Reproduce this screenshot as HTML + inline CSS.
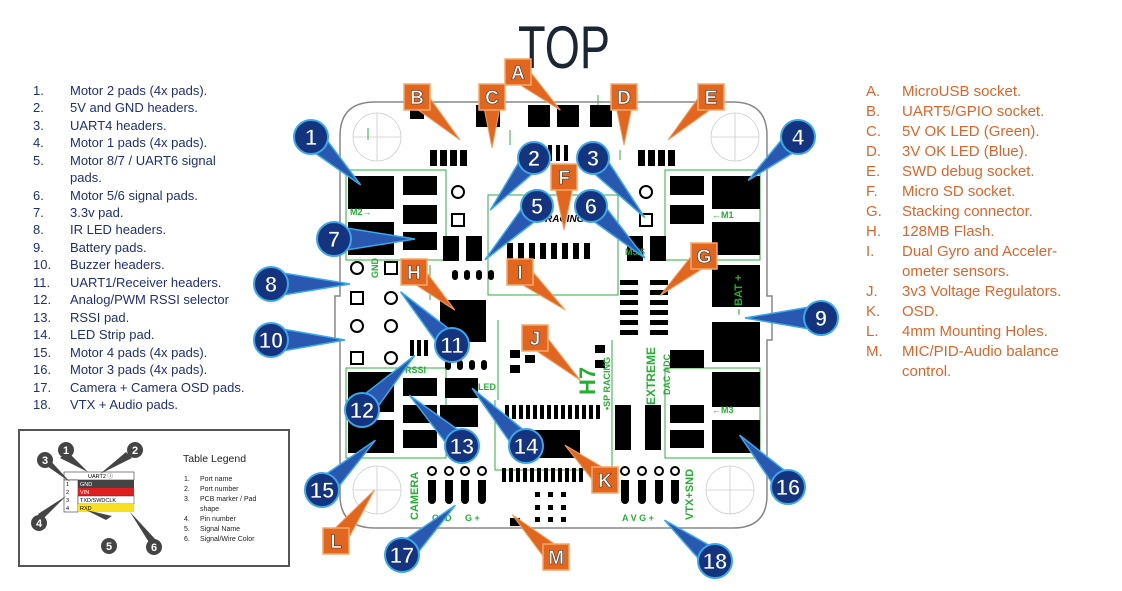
<!DOCTYPE html>
<html><head><meta charset="utf-8"><style>
html,body{margin:0;padding:0;background:#fff;}
svg{display:block;font-family:"Liberation Sans",sans-serif;}
.l{fill:#1f2f7a;font-size:13px;}
.r{fill:#e0642a;font-size:15px;}
.g{fill:#22b030;font-size:9px;font-weight:bold;}
.bt polygon{fill:#2858b0;stroke:#3aa8e8;stroke-width:1.5;}
.bc{fill:#15347f;stroke:#3aa8e8;stroke-width:2;}
.bn{fill:#fff;stroke:#15347f;stroke-width:0.8;font-size:22px;font-weight:bold;text-anchor:middle;}
.ot polygon{fill:#e2661e;stroke:#f2a060;stroke-width:1;}
.os{fill:#e2661e;stroke:#f4a868;stroke-width:1.5;}
.on{fill:#fff;stroke:#333;stroke-width:0.6;font-size:19px;font-weight:bold;text-anchor:middle;}
</style></head><body>
<svg width="1122" height="591" viewBox="0 0 1122 591" xmlns="http://www.w3.org/2000/svg">
<text x="518" y="68" font-size="60" fill="#1c2633" textLength="92" lengthAdjust="spacingAndGlyphs">TOP</text>

<!-- left list -->
<g class="l">
<text x="33" y="95">1.</text><text x="70" y="95">Motor 2 pads (4x pads).</text>
<text x="33" y="112">2.</text><text x="70" y="112">5V and GND headers.</text>
<text x="33" y="130">3.</text><text x="70" y="130">UART4 headers.</text>
<text x="33" y="147">4.</text><text x="70" y="147">Motor 1 pads (4x pads).</text>
<text x="33" y="165">5.</text><text x="70" y="165">Motor 8/7 / UART6 signal</text>
<text x="70" y="182">pads.</text>
<text x="33" y="200">6.</text><text x="70" y="200">Motor 5/6 signal pads.</text>
<text x="33" y="217">7.</text><text x="70" y="217">3.3v pad.</text>
<text x="33" y="234">8.</text><text x="70" y="234">IR LED headers.</text>
<text x="33" y="252">9.</text><text x="70" y="252">Battery pads.</text>
<text x="33" y="269">10.</text><text x="70" y="269">Buzzer headers.</text>
<text x="33" y="287">11.</text><text x="70" y="287">UART1/Receiver headers.</text>
<text x="33" y="304">12.</text><text x="70" y="304">Analog/PWM RSSI selector</text>
<text x="33" y="322">13.</text><text x="70" y="322">RSSI pad.</text>
<text x="33" y="339">14.</text><text x="70" y="339">LED Strip pad.</text>
<text x="33" y="357">15.</text><text x="70" y="357">Motor 4 pads (4x pads).</text>
<text x="33" y="374">16.</text><text x="70" y="374">Motor 3 pads (4x pads).</text>
<text x="33" y="392">17.</text><text x="70" y="392">Camera + Camera OSD pads.</text>
<text x="33" y="409">18.</text><text x="70" y="409">VTX + Audio pads.</text>
</g>

<!-- right list -->
<g class="r">
<text x="866" y="96">A.</text><text x="902" y="96">MicroUSB socket.</text>
<text x="866" y="116">B.</text><text x="902" y="116">UART5/GPIO socket.</text>
<text x="866" y="136">C.</text><text x="902" y="136">5V OK LED (Green).</text>
<text x="866" y="156">D.</text><text x="902" y="156">3V OK LED (Blue).</text>
<text x="866" y="176">E.</text><text x="902" y="176">SWD debug socket.</text>
<text x="866" y="196">F.</text><text x="902" y="196">Micro SD socket.</text>
<text x="866" y="216">G.</text><text x="902" y="216">Stacking connector.</text>
<text x="866" y="236">H.</text><text x="902" y="236">128MB Flash.</text>
<text x="866" y="256">I.</text><text x="902" y="256">Dual Gyro and Acceler-</text>
<text x="902" y="276">ometer sensors.</text>
<text x="866" y="296">J.</text><text x="902" y="296">3v3 Voltage Regulators.</text>
<text x="866" y="316">K.</text><text x="902" y="316">OSD.</text>
<text x="866" y="336">L.</text><text x="902" y="336">4mm Mounting Holes.</text>
<text x="866" y="356">M.</text><text x="902" y="356">MIC/PID-Audio balance</text>
<text x="902" y="376">control.</text>
</g>

<!-- legend box -->
<rect x="19" y="430" width="270" height="136" fill="#fff" stroke="#555" stroke-width="2"/>
<g font-size="5.5">
<rect x="64" y="472" width="70" height="8" fill="#fff" stroke="#333" stroke-width="0.6"/>
<text x="88" y="478">UART2 ⓘ</text>
<rect x="64" y="480" width="14" height="32" fill="#fff" stroke="#333" stroke-width="0.6"/>
<rect x="78" y="480" width="56" height="8" fill="#444"/><text x="80" y="486" fill="#fff">GND</text>
<rect x="78" y="488" width="56" height="8" fill="#e02020"/><text x="80" y="494" fill="#fff">VIN</text>
<rect x="78" y="496" width="56" height="8" fill="#fff" stroke="#333" stroke-width="0.5"/><text x="80" y="502">TXD/SWDCLK</text>
<rect x="78" y="504" width="56" height="8" fill="#f8e020"/><text x="80" y="510">RXD</text>
<text x="66" y="486">1</text><text x="66" y="494">2</text><text x="66" y="502">3</text><text x="66" y="510">4</text>
</g>
<g fill="#444">
<polygon points="68,452 60,458 88,472"/><polygon points="132,458 126,452 100,474"/>
<polygon points="48,458 44,464 70,482"/><polygon points="42,520 38,514 66,496"/>
<polygon points="106,520 112,516 86,510"/><polygon points="150,544 156,540 130,512"/>
<circle cx="66" cy="450" r="8"/><circle cx="135" cy="450" r="8"/><circle cx="45" cy="460" r="8"/>
<circle cx="39" cy="523" r="8"/><circle cx="109" cy="546" r="8"/><circle cx="154" cy="547" r="8"/>
</g>
<g fill="#fff" font-size="11" font-weight="bold" text-anchor="middle">
<text x="66" y="454">1</text><text x="135" y="454">2</text><text x="45" y="464">3</text>
<text x="39" y="527">4</text><text x="109" y="550">5</text><text x="154" y="551">6</text>
</g>
<g font-size="10" fill="#222">
<text x="183" y="462" font-size="10.5">Table Legend</text>
<text x="184" y="481" font-size="7">1.</text><text x="200" y="481" font-size="7">Port name</text>
<text x="184" y="491" font-size="7">2.</text><text x="200" y="491" font-size="7">Port number</text>
<text x="184" y="501" font-size="7">3.</text><text x="200" y="501" font-size="7">PCB marker / Pad</text>
<text x="200" y="511" font-size="7">shape</text>
<text x="184" y="521" font-size="7">4.</text><text x="200" y="521" font-size="7">Pin number</text>
<text x="184" y="531" font-size="7">5.</text><text x="200" y="531" font-size="7">Signal Name</text>
<text x="184" y="541" font-size="7">6.</text><text x="200" y="541" font-size="7">Signal/Wire Color</text>
</g>

<!-- board -->
<path d="M375,102 H733 Q767,102 767,136 V296 H772 V340 H767 V495 Q767,528 733,528 H375 Q340,528 340,495 V340 H335 V296 H340 V136 Q340,102 375,102 Z" fill="#fff" stroke="#888" stroke-width="1.5"/>
<g fill="none" stroke="#ccc" stroke-width="0.8">
<circle cx="377" cy="137" r="24"/><path d="M353,137H401M377,113V161"/>
<circle cx="735" cy="137" r="24"/><path d="M711,137H759M735,113V161"/>
<circle cx="377" cy="490" r="24"/><path d="M353,490H401M377,466V514"/>
<circle cx="730" cy="490" r="24"/><path d="M706,490H754M730,466V514"/>
</g>
<g fill="none" stroke="#2ab040" stroke-width="1">
<rect x="346" y="170" width="100" height="90"/><rect x="665" y="170" width="95" height="90"/>
<rect x="346" y="368" width="100" height="90"/><rect x="665" y="368" width="95" height="90"/>
<rect x="488" y="195" width="130" height="100"/>
<path d="M430,265 V300 M498,320 V400 M495,400 V470 H612 V400 M612,340 V400"/>
<path d="M368,128V140 M598,95V110 M510,130V145 M620,150V160"/>
</g>
<g fill="#000">
<!-- top row -->
<rect x="410" y="105" width="14" height="14"/><rect x="476" y="105" width="24" height="22"/>
<rect x="528" y="105" width="22" height="22"/><rect x="557" y="105" width="22" height="22"/>
<rect x="590" y="105" width="22" height="22"/>
<rect x="430" y="150" width="7" height="16"/><rect x="440" y="150" width="7" height="16"/><rect x="450" y="150" width="7" height="16"/><rect x="460" y="150" width="7" height="16"/>
<rect x="638" y="150" width="7" height="16"/><rect x="648" y="150" width="7" height="16"/><rect x="658" y="150" width="7" height="16"/><rect x="668" y="150" width="7" height="16"/>
<rect x="548" y="145" width="4" height="16"/><rect x="556" y="145" width="4" height="16"/><rect x="564" y="145" width="4" height="16"/>
<!-- motor pads -->
<rect x="348" y="176" width="46" height="33"/><rect x="348" y="222" width="46" height="33"/>
<rect x="403" y="176" width="34" height="19"/><rect x="403" y="205" width="34" height="19"/><rect x="403" y="232" width="34" height="18"/>
<rect x="712" y="176" width="48" height="33"/><rect x="712" y="222" width="48" height="33"/>
<rect x="670" y="176" width="34" height="19"/><rect x="670" y="205" width="34" height="19"/>
<rect x="712" y="265" width="48" height="42"/><rect x="712" y="322" width="48" height="40"/>
<rect x="348" y="372" width="46" height="40"/><rect x="348" y="420" width="46" height="33"/>
<rect x="403" y="378" width="34" height="18"/><rect x="403" y="405" width="34" height="18"/><rect x="403" y="430" width="34" height="18"/>
<rect x="712" y="372" width="48" height="35"/><rect x="712" y="420" width="48" height="33"/>
<rect x="670" y="405" width="34" height="18"/><rect x="670" y="430" width="34" height="18"/>
<rect x="670" y="350" width="34" height="18"/>
<!-- center -->
<rect x="443" y="236" width="16" height="25"/><rect x="466" y="236" width="16" height="25"/>
<rect x="627" y="236" width="16" height="25"/><rect x="650" y="236" width="16" height="25"/>
<rect x="507" y="243" width="6" height="16"/><rect x="518" y="243" width="6" height="16"/><rect x="529" y="243" width="6" height="16"/><rect x="540" y="243" width="6" height="16"/><rect x="551" y="243" width="6" height="16"/><rect x="562" y="243" width="6" height="16"/><rect x="573" y="243" width="6" height="16"/><rect x="584" y="243" width="6" height="16"/>
<rect x="440" y="300" width="46" height="42"/>
<rect x="445" y="378" width="33" height="20"/><rect x="440" y="405" width="38" height="22"/>
<rect x="530" y="430" width="50" height="28"/>
<g><rect x="505" y="405" width="4" height="14"/><rect x="512" y="405" width="4" height="14"/><rect x="519" y="405" width="4" height="14"/><rect x="526" y="405" width="4" height="14"/><rect x="533" y="405" width="4" height="14"/><rect x="540" y="405" width="4" height="14"/><rect x="547" y="405" width="4" height="14"/><rect x="554" y="405" width="4" height="14"/><rect x="561" y="405" width="4" height="14"/><rect x="568" y="405" width="4" height="14"/><rect x="575" y="405" width="4" height="14"/><rect x="582" y="405" width="4" height="14"/><rect x="589" y="405" width="4" height="14"/><rect x="596" y="405" width="4" height="14"/></g>
<g><rect x="502" y="468" width="4" height="14"/><rect x="509" y="468" width="4" height="14"/><rect x="516" y="468" width="4" height="14"/><rect x="523" y="468" width="4" height="14"/><rect x="530" y="468" width="4" height="14"/><rect x="537" y="468" width="4" height="14"/><rect x="544" y="468" width="4" height="14"/><rect x="551" y="468" width="4" height="14"/><rect x="558" y="468" width="4" height="14"/><rect x="565" y="468" width="4" height="14"/><rect x="572" y="468" width="4" height="14"/><rect x="579" y="468" width="4" height="14"/></g>
<rect x="620" y="280" width="18" height="5"/><rect x="620" y="290" width="18" height="5"/><rect x="620" y="300" width="18" height="5"/><rect x="620" y="310" width="18" height="5"/><rect x="620" y="320" width="18" height="5"/><rect x="620" y="330" width="18" height="5"/>
<rect x="650" y="280" width="18" height="5"/><rect x="650" y="290" width="18" height="5"/><rect x="650" y="300" width="18" height="5"/><rect x="650" y="310" width="18" height="5"/><rect x="650" y="320" width="18" height="5"/><rect x="650" y="330" width="18" height="5"/>
<rect x="615" y="405" width="16" height="45"/><rect x="645" y="405" width="16" height="45"/>
<rect x="510" y="350" width="10" height="8"/><rect x="510" y="365" width="10" height="8"/><rect x="525" y="355" width="10" height="8"/><rect x="595" y="345" width="10" height="8"/><rect x="595" y="360" width="10" height="8"/>
<rect x="452" y="270" width="6" height="10" rx="3"/><rect x="464" y="270" width="6" height="10" rx="3"/><rect x="476" y="270" width="6" height="10" rx="3"/><rect x="488" y="270" width="6" height="10" rx="3"/>
<rect x="445" y="360" width="6" height="10" rx="3"/><rect x="457" y="360" width="6" height="10" rx="3"/><rect x="469" y="360" width="6" height="10" rx="3"/><rect x="481" y="360" width="6" height="10" rx="3"/>
<rect x="410" y="340" width="4" height="16"/><rect x="417" y="340" width="4" height="16"/><rect x="424" y="340" width="4" height="16"/>
<rect x="510" y="518" width="10" height="8"/>
<!-- camera/vtx pads -->
<path d="M428,480 h8 v20 a4,4 0 0 1 -8,0 z M445,480 h8 v20 a4,4 0 0 1 -8,0 z M461,480 h8 v20 a4,4 0 0 1 -8,0 z M478,480 h8 v20 a4,4 0 0 1 -8,0 z"/>
<path d="M621,480 h8 v20 a4,4 0 0 1 -8,0 z M638,480 h8 v20 a4,4 0 0 1 -8,0 z M655,480 h8 v20 a4,4 0 0 1 -8,0 z M671,480 h8 v20 a4,4 0 0 1 -8,0 z"/>
<rect x="535" y="492" width="5" height="5"/><rect x="548" y="492" width="5" height="5"/><rect x="561" y="492" width="5" height="5"/><rect x="535" y="505" width="5" height="5"/><rect x="548" y="505" width="5" height="5"/><rect x="561" y="505" width="5" height="5"/><rect x="535" y="517" width="5" height="5"/><rect x="548" y="517" width="5" height="5"/><rect x="561" y="517" width="5" height="5"/>
</g>
<g fill="#fff" stroke="#000" stroke-width="2">
<circle cx="432" cy="471" r="4"/><circle cx="449" cy="471" r="4"/><circle cx="465" cy="471" r="4"/><circle cx="482" cy="471" r="4"/>
<circle cx="625" cy="471" r="4"/><circle cx="642" cy="471" r="4"/><circle cx="659" cy="471" r="4"/><circle cx="675" cy="471" r="4"/>
<circle cx="458" cy="192" r="6"/><rect x="452" y="214" width="12" height="12"/>
<circle cx="646" cy="192" r="6"/><rect x="640" y="214" width="12" height="12"/>
<circle cx="357" cy="268" r="6"/><rect x="385" y="262" width="12" height="12"/>
<rect x="351" y="292" width="12" height="12"/><circle cx="391" cy="298" r="6"/>
<circle cx="357" cy="326" r="6"/><circle cx="391" cy="326" r="6"/>
<rect x="351" y="352" width="12" height="12"/><circle cx="391" cy="358" r="6"/>
</g>
<g class="g">
<text x="545" y="222" font-size="10" fill="#000" font-style="italic">RACING</text>
<text x="625" y="255">M5/6</text><text x="478" y="390">LED</text><text x="405" y="373">RSSI</text>
<text x="350" y="215">M2→</text><text x="712" y="218">←M1</text><text x="350" y="413">M4→</text><text x="712" y="413">←M3</text>
<text transform="translate(595,395) rotate(-90)" font-size="22" font-weight="bold">H7</text>
<text transform="translate(655,405) rotate(-90)" font-size="12">EXTREME</text>
<text transform="translate(670,395) rotate(-90)">DAC ADC</text>
<text transform="translate(610,410) rotate(-90)">•SP RACING</text>
<text transform="translate(742,315) rotate(-90)" font-size="11">– BAT +</text>
<text transform="translate(418,520) rotate(-90)" font-size="11">CAMERA</text>
<text transform="translate(693,520) rotate(-90)" font-size="11">VTX+SND</text>
<text x="432" y="521">OSD</text><text x="465" y="521">G +</text><text x="622" y="521">A  V  G  +</text>
<text transform="translate(378,278) rotate(-90)">GND</text>
</g>

<!-- blue pointers -->
<g class="bt">
<g transform="translate(311,137) rotate(44)"><polygon points="0,-11 69,0 0,11"/></g>
<g transform="translate(534,158) rotate(130)"><polygon points="0,-11 68,0 0,11"/></g>
<g transform="translate(593,158) rotate(49)"><polygon points="0,-11 79,0 0,11"/></g>
<g transform="translate(798,137) rotate(139)"><polygon points="0,-11 66,0 0,11"/></g>
<g transform="translate(537,206) rotate(134)"><polygon points="0,-11 75,0 0,11"/></g>
<g transform="translate(591,206) rotate(44)"><polygon points="0,-11 75,0 0,11"/></g>
<g transform="translate(334,239) rotate(0)"><polygon points="0,-13 81,0 0,13"/></g>
<g transform="translate(271,284) rotate(0)"><polygon points="0,-13 79,0 0,13"/></g>
<g transform="translate(821,318) rotate(180)"><polygon points="0,-13 76,0 0,13"/></g>
<g transform="translate(271,340) rotate(0)"><polygon points="0,-13 74,0 0,13"/></g>
<g transform="translate(452,345) rotate(226)"><polygon points="0,-11 74,0 0,11"/></g>
<g transform="translate(362,410) rotate(-46)"><polygon points="0,-11 76,0 0,11"/></g>
<g transform="translate(462,446) rotate(-136)"><polygon points="0,-11 73,0 0,11"/></g>
<g transform="translate(526,446) rotate(-133)"><polygon points="0,-11 79,0 0,11"/></g>
<g transform="translate(322,490) rotate(-43)"><polygon points="0,-11 73,0 0,11"/></g>
<g transform="translate(788,487) rotate(-133)"><polygon points="0,-11 71,0 0,11"/></g>
<g transform="translate(402,555) rotate(-43)"><polygon points="0,-11 73,0 0,11"/></g>
<g transform="translate(715,561) rotate(-141)"><polygon points="0,-11 65,0 0,11"/></g>
</g>
<g class="ot">
<g transform="translate(518,72) rotate(42)"><polygon points="0,-10 57,0 0,10"/></g>
<g transform="translate(417,97) rotate(45)"><polygon points="0,-10 61,0 0,10"/></g>
<g transform="translate(492,97) rotate(90)"><polygon points="0,-10 51,0 0,10"/></g>
<g transform="translate(624,97) rotate(90)"><polygon points="0,-10 48,0 0,10"/></g>
<g transform="translate(711,97) rotate(135)"><polygon points="0,-10 61,0 0,10"/></g>
<g transform="translate(564,177) rotate(90)"><polygon points="0,-11 53,0 0,11"/></g>
<g transform="translate(704,256) rotate(138)"><polygon points="0,-10 59,0 0,10"/></g>
<g transform="translate(414,272) rotate(43)"><polygon points="0,-10 56,0 0,10"/></g>
<g transform="translate(520,272) rotate(40)"><polygon points="0,-10 59,0 0,10"/></g>
<g transform="translate(535,338) rotate(43)"><polygon points="0,-10 62,0 0,10"/></g>
<g transform="translate(605,480) rotate(-139)"><polygon points="0,-10 53,0 0,10"/></g>
<g transform="translate(336,541) rotate(-53)"><polygon points="0,-10 64,0 0,10"/></g>
<g transform="translate(556,557) rotate(-136)"><polygon points="0,-10 61,0 0,10"/></g>
</g>

<!-- blue circles -->
<g>
<circle class="bc" cx="311" cy="137" r="17"/><text class="bn" x="311" y="145">1</text>
<circle class="bc" cx="534" cy="158" r="16"/><text class="bn" x="534" y="166">2</text>
<circle class="bc" cx="593" cy="158" r="16"/><text class="bn" x="593" y="166">3</text>
<circle class="bc" cx="798" cy="137" r="17"/><text class="bn" x="798" y="145">4</text>
<circle class="bc" cx="537" cy="206" r="16"/><text class="bn" x="537" y="214">5</text>
<circle class="bc" cx="591" cy="206" r="16"/><text class="bn" x="591" y="214">6</text>
<circle class="bc" cx="334" cy="239" r="17"/><text class="bn" x="334" y="247">7</text>
<circle class="bc" cx="271" cy="284" r="17"/><text class="bn" x="271" y="292">8</text>
<circle class="bc" cx="821" cy="318" r="17"/><text class="bn" x="821" y="326">9</text>
<circle class="bc" cx="271" cy="340" r="17"/><text class="bn" x="271" y="348" font-size="20">10</text>
<circle class="bc" cx="452" cy="345" r="17"/><text class="bn" x="452" y="353" font-size="20">11</text>
<circle class="bc" cx="362" cy="410" r="17"/><text class="bn" x="362" y="418" font-size="20">12</text>
<circle class="bc" cx="462" cy="446" r="17"/><text class="bn" x="462" y="454" font-size="20">13</text>
<circle class="bc" cx="526" cy="446" r="17"/><text class="bn" x="526" y="454" font-size="20">14</text>
<circle class="bc" cx="322" cy="490" r="17"/><text class="bn" x="322" y="498" font-size="20">15</text>
<circle class="bc" cx="788" cy="487" r="17"/><text class="bn" x="788" y="495" font-size="20">16</text>
<circle class="bc" cx="402" cy="555" r="17"/><text class="bn" x="402" y="563" font-size="20">17</text>
<circle class="bc" cx="715" cy="561" r="17"/><text class="bn" x="715" y="569" font-size="20">18</text>
</g>
<!-- orange squares -->
<g>
<rect class="os" x="505" y="59" width="26" height="26"/><text class="on" x="518" y="79">A</text>
<rect class="os" x="404" y="84" width="26" height="26"/><text class="on" x="417" y="104">B</text>
<rect class="os" x="479" y="84" width="26" height="26"/><text class="on" x="492" y="104">C</text>
<rect class="os" x="611" y="84" width="26" height="26"/><text class="on" x="624" y="104">D</text>
<rect class="os" x="698" y="84" width="26" height="26"/><text class="on" x="711" y="104">E</text>
<rect class="os" x="551" y="164" width="26" height="26"/><text class="on" x="564" y="184">F</text>
<rect class="os" x="691" y="243" width="26" height="26"/><text class="on" x="704" y="263">G</text>
<rect class="os" x="401" y="259" width="26" height="26"/><text class="on" x="414" y="279">H</text>
<rect class="os" x="507" y="259" width="26" height="26"/><text class="on" x="520" y="279">I</text>
<rect class="os" x="522" y="325" width="26" height="26"/><text class="on" x="535" y="345">J</text>
<rect class="os" x="592" y="467" width="26" height="26"/><text class="on" x="605" y="487">K</text>
<rect class="os" x="323" y="528" width="26" height="26"/><text class="on" x="336" y="548">L</text>
<rect class="os" x="543" y="544" width="26" height="26"/><text class="on" x="556" y="564">M</text>
</g>
</svg>
</body></html>
